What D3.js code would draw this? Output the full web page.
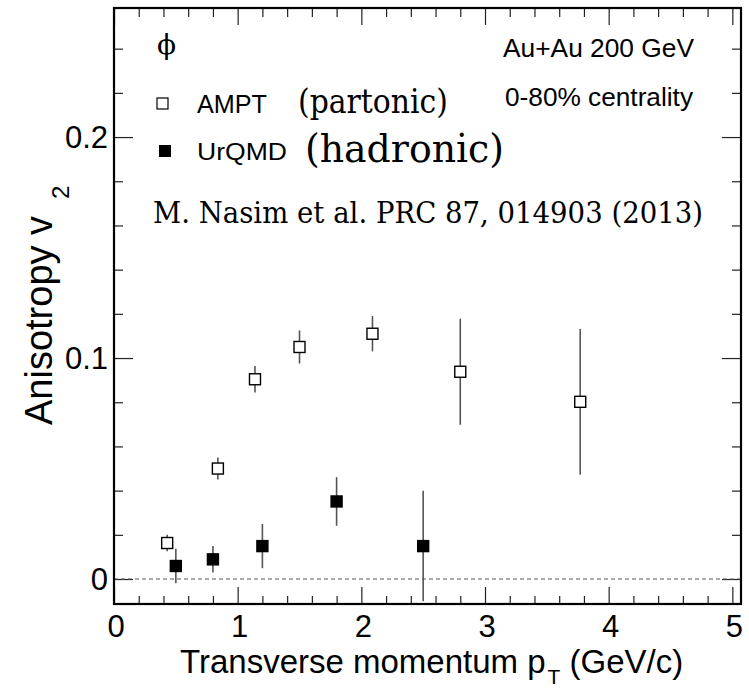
<!DOCTYPE html>
<html>
<head>
<meta charset="utf-8">
<script src="https://cdn.jsdelivr.net/npm/d3@7/dist/d3.min.js"></script>
<style>
  html, body { margin: 0; padding: 0; background: #fff; }
  svg { display: block; }
  .sans { font-family: "Liberation Sans", Arial, Helvetica, sans-serif; }
  .serif { font-family: "DejaVu Serif", "Liberation Serif", serif; }
</style>
</head>
<body>
<svg id="chart"></svg>
<script>
// AMPT (partonic) - open squares
const amptPt  = [0.43, 0.84, 1.14, 1.50, 2.09, 2.80, 3.77];
const amptV2  = [0.0163, 0.050, 0.0904, 0.105, 0.111, 0.0938, 0.0802];
const amptErr = [0.0037, 0.005, 0.006, 0.0075, 0.008, 0.024, 0.033];

// UrQMD (hadronic) - filled squares
const urqmdPt  = [0.50, 0.80, 1.20, 1.80, 2.50];
const urqmdV2  = [0.0059, 0.0089, 0.0149, 0.0351, 0.0149];
const urqmdErr = [0.0078, 0.006, 0.010, 0.011, 0.025];

const xTicks = [0, 1, 2, 3, 4, 5];
const yTicks = [0, 0.1, 0.2];
const yTickLabels = ['0', '0.1', '0.2'];

const width = 749, height = 691;
const frame = { left: 114, right: 741, top: 8, bottom: 604 };

const svg = d3.select('#chart')
    .attr('width', width)
    .attr('height', height);

svg.append('rect').attr('width', width).attr('height', height).attr('fill', '#fff');

const x = d3.scaleLinear().domain([0, 5.07]).range([frame.left, frame.right]);
const y = d3.scaleLinear().domain([-0.0113, 0.2584]).range([frame.bottom, frame.top]);

const xMinor = d3.range(0, 5.07, 0.2).filter(v => Math.abs(v - Math.round(v)) > 1e-6);
const yMinor = d3.range(0, 0.2584, 0.02).filter(v => Math.abs(v * 10 - Math.round(v * 10)) > 1e-6);

// tick marks drawn with d3 axes, pointing inward on all four sides
function ticks(axisFn, scale, values, size, transform) {
    const g = svg.append('g')
        .attr('transform', transform)
        .call(axisFn(scale).tickValues(values).tickSize(size).tickFormat(''));
    g.select('.domain').remove();
    g.selectAll('.tick line').attr('stroke', '#222').attr('stroke-width', 1.2);
    return g;
}

ticks(d3.axisBottom, x, xTicks, -17, `translate(0,${frame.bottom})`);
ticks(d3.axisBottom, x, xMinor, -8, `translate(0,${frame.bottom})`);
ticks(d3.axisTop, x, xTicks, -17, `translate(0,${frame.top})`);
ticks(d3.axisTop, x, xMinor, -9, `translate(0,${frame.top})`);
ticks(d3.axisLeft, y, yTicks, -19, `translate(${frame.left},0)`);
ticks(d3.axisLeft, y, yMinor, -9, `translate(${frame.left},0)`);
ticks(d3.axisRight, y, yTicks, -19, `translate(${frame.right},0)`);
ticks(d3.axisRight, y, yMinor, -9, `translate(${frame.right},0)`);

// tick labels
svg.append('g').selectAll('text')
    .data(xTicks)
    .join('text')
    .attr('class', 'sans')
    .attr('x', d => x(d) + 2)
    .attr('y', 637)
    .attr('text-anchor', 'middle')
    .attr('font-size', 31)
    .text(d => d);

svg.append('g').selectAll('text')
    .data(yTicks)
    .join('text')
    .attr('class', 'sans')
    .attr('x', 108)
    .attr('y', d => y(d) + 11)
    .attr('text-anchor', 'end')
    .attr('font-size', 31)
    .text((d, i) => yTickLabels[i]);

// dashed zero line
svg.append('line')
    .attr('x1', x(0)).attr('x2', x(5.07))
    .attr('y1', y(0)).attr('y2', y(0))
    .attr('stroke', '#555')
    .attr('stroke-width', 1)
    .attr('stroke-dasharray', '4,3');

// data
svg.append('clipPath').attr('id', 'clip')
    .append('rect')
    .attr('x', frame.left).attr('y', frame.top)
    .attr('width', frame.right - frame.left)
    .attr('height', frame.bottom - frame.top);

const plot = svg.append('g').attr('clip-path', 'url(#clip)');
const ms = 11;

function series(pt, v2, err, fill) {
    const g = plot.append('g');
    g.selectAll('line')
        .data(pt)
        .join('line')
        .attr('x1', d => x(d)).attr('x2', d => x(d))
        .attr('y1', (d, i) => y(v2[i] + err[i]))
        .attr('y2', (d, i) => y(v2[i] - err[i]))
        .attr('stroke', '#555')
        .attr('stroke-width', 1.6);
    g.selectAll('rect')
        .data(pt)
        .join('rect')
        .attr('x', d => x(d) - ms / 2)
        .attr('y', (d, i) => y(v2[i]) - ms / 2)
        .attr('width', ms).attr('height', ms)
        .attr('fill', fill)
        .attr('stroke', '#000')
        .attr('stroke-width', 1.4);
}

series(amptPt, amptV2, amptErr, '#fff');
series(urqmdPt, urqmdV2, urqmdErr, '#000');

// frame
svg.append('rect')
    .attr('x', frame.left).attr('y', frame.top)
    .attr('width', frame.right - frame.left)
    .attr('height', frame.bottom - frame.top)
    .attr('fill', 'none')
    .attr('stroke', '#000')
    .attr('stroke-width', 2.2);

// axis titles
const xt = svg.append('text')
    .attr('class', 'sans')
    .attr('x', 180).attr('y', 673)
    .attr('font-size', 33);
xt.append('tspan').text('Transverse momentum p');
xt.append('tspan').attr('font-size', 21).attr('dx', 2).attr('dy', 11).text('T');
xt.append('tspan').attr('dy', -11).text(' (GeV/c)');

const yt = svg.append('text')
    .attr('class', 'sans')
    .attr('transform', 'translate(52,425) rotate(-90)')
    .attr('font-size', 38);
yt.append('tspan').text('Anisotropy v');
yt.append('tspan').attr('font-size', 24).attr('dx', 17).attr('dy', 17).text('2');

// legend and annotations
svg.append('text').attr('class', 'serif')
    .attr('x', 157).attr('y', 54).attr('font-size', 28)
    .text('\u03D5');

svg.append('rect')
    .attr('x', 157).attr('y', 98).attr('width', 11).attr('height', 11)
    .attr('fill', '#fff').attr('stroke', '#000').attr('stroke-width', 1.2);
svg.append('rect')
    .attr('x', 159).attr('y', 145).attr('width', 12).attr('height', 12)
    .attr('fill', '#000');

function label(cls, tx, ty, size, len, str) {
    svg.append('text')
        .attr('class', cls)
        .attr('x', tx).attr('y', ty)
        .attr('font-size', size)
        .attr('textLength', len)
        .attr('lengthAdjust', 'spacingAndGlyphs')
        .text(str);
}

label('sans', 197, 113, 26, 70, 'AMPT');
label('serif', 298, 113, 34, 150, '(partonic)');
label('sans', 197, 160, 24, 90, 'UrQMD');
label('serif', 305, 162, 40, 199, '(hadronic)');
label('sans', 503, 57, 26, 191, 'Au+Au 200 GeV');
label('sans', 505, 106, 26, 188, '0-80% centrality');
label('serif', 153, 223, 29, 550, 'M. Nasim et al. PRC 87, 014903 (2013)');
</script>
</body>
</html>
